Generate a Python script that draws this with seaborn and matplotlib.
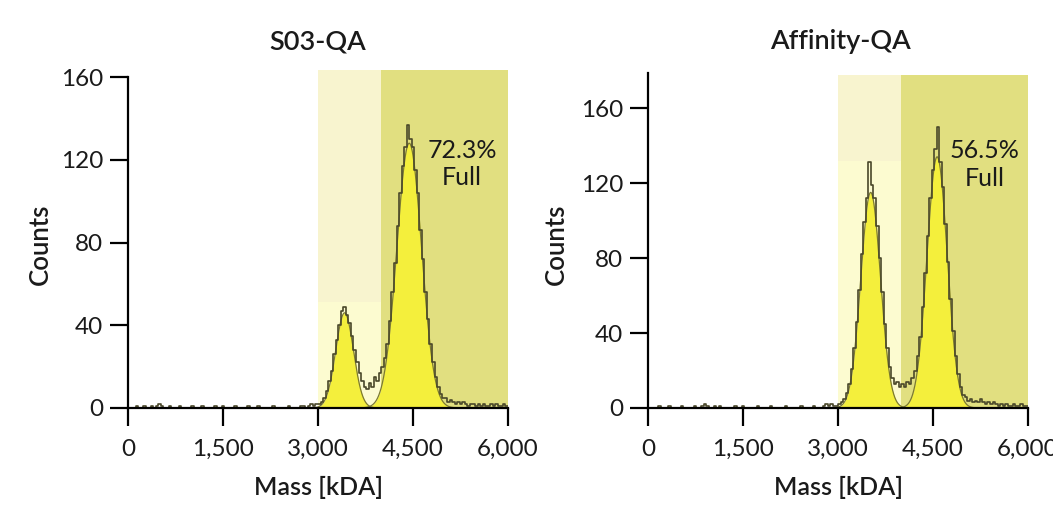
import numpy as np
import pandas as pd
import matplotlib
matplotlib.use("Agg")
import matplotlib.pyplot as plt
import seaborn as sns
from matplotlib.ticker import FuncFormatter
from matplotlib.patches import Rectangle

sns.set_theme(style="ticks")
plt.rcParams["font.family"] = ["Lato", "DejaVu Sans"]

# ---------------- data ----------------
panels = ["S03-QA", "Affinity-QA"]
percent_full = ["72.3%\nFull", "56.5%\nFull"]
bin_width = 40  # kDa
bin_edges = list(range(0, 6001, bin_width))

s03_low = [0, 0, 0, 1, 0, 0, 1, 0, 0, 1, 0, 1, 2, 1, 0, 0, 1, 0, 0, 0,
           1, 0, 0, 0, 0, 1, 0, 0, 0, 1, 0, 0, 0, 0, 1, 0, 0, 1, 0, 0,
           0, 0, 1, 0, 0, 0, 0, 1, 0, 0, 0, 1, 0, 0, 0, 0, 0, 1, 0, 0,
           0, 0, 0, 1, 0, 0, 0, 0, 1, 1, 0, 1, 2, 1, 2]
s03_high = [2, 3, 5, 8, 13, 18, 26, 33, 40, 47, 49, 45, 41, 35, 28, 22, 17, 13, 10, 9,
            12, 10, 15, 13, 17,
            20, 24, 31, 42, 56, 70, 88, 104, 117, 126, 137, 130, 126, 115, 104, 86, 72, 56, 43, 31,
            22, 15, 10, 7, 5,
            5, 3, 4, 3, 2, 3, 2, 3, 2, 1, 2, 2, 1, 2, 1, 2, 1, 1, 2, 1,
            2, 1, 1, 2, 1]
aff_low = [0, 0, 0, 0, 1, 0, 0, 0, 1, 0, 0, 0, 0, 1, 0, 0, 0, 0, 1, 0,
           0, 1, 2, 1, 0, 0, 1, 0, 1, 0, 0, 0, 0, 0, 1, 0, 0, 1, 0, 0,
           0, 0, 0, 1, 0, 0, 0, 0, 1, 0, 0, 0, 0, 0, 1, 0, 0, 0, 0, 0,
           1, 0, 0, 0, 0, 1, 0, 0, 0, 1, 2, 1, 2, 1, 1]
aff_high = [2, 3, 5, 8, 13, 21, 32, 46, 63, 82, 99, 112, 131, 119, 112, 97, 80, 62, 45, 32,
            22, 16, 13, 14, 11,
            13, 11, 14, 13, 16, 20, 28, 38, 54, 72, 92, 112, 127, 138, 150, 131, 118, 98, 78, 58,
            41, 28, 18, 11, 7,
            6, 4, 5, 3, 4, 3, 5, 3, 2, 3, 2, 3, 2, 1, 2, 1, 2, 1, 1, 2,
            1, 1, 2, 1, 1]
counts = [s03_low + s03_high, aff_low + aff_high]

# Gaussian fit parameters per panel: (amplitude, mean kDa, sigma kDa)
fit_partial = [(46, 3420, 140), (115, 3516, 155)]
fit_full = [(128, 4440, 195), (134, 4565, 160)]

# shaded population windows (kDa)
partial_window = (3000, 4000)
full_window = (4000, 6000)
partial_split = [51, 132]   # counts level where partial shading colour changes
shade_top = [163.4, 177.6]

x_ticks = [0, 1500, 3000, 4500, 6000]
y_ticks = [0, 40, 80, 120, 160]
y_limits = [(0, 160), (0, 178.7)]
label_pos = [(5274, 118), (5321, 130)]

# ---------------- style ----------------
c_full = "#e1df80"
c_partial_up = "#f8f4cf"
c_partial_low = "#fcfbd0"
c_fit_fill = "#f4ef3c"
c_fit_line = "#7c7a30"
c_hist = "#4a482a"

fig = plt.figure(figsize=(10.53, 5.05), dpi=100)
axes_rects = [
    [128 / 1053, 1 - 408 / 505, 380 / 1053, (408 - 77) / 505],
    [648 / 1053, 1 - 408 / 505, 380 / 1053, (408 - 73) / 505],
]
title_x = [318 / 1053, 840 / 1053]
ylabel_x = [40 / 1053, 556 / 1053]

centers = [e + bin_width / 2 for e in bin_edges[:-1]]
xs = np.linspace(2700, 5500, 900)

for i in range(2):
    ax = fig.add_axes(axes_rects[i])
    ax.set_xlim(0, 6000)
    ax.set_ylim(*y_limits[i])

    # shading
    p0, p1 = partial_window
    f0, f1 = full_window
    ax.add_patch(Rectangle((f0, 0), f1 - f0, shade_top[i], color=c_full, lw=0, clip_on=False, zorder=0))
    ax.add_patch(Rectangle((p0, partial_split[i]), p1 - p0, shade_top[i] - partial_split[i],
                           color=c_partial_up, lw=0, clip_on=False, zorder=0))
    ax.add_patch(Rectangle((p0, 0), p1 - p0, partial_split[i], color=c_partial_low, lw=0, zorder=0))

    # gaussian fits
    for (A, mu, sd) in (fit_partial[i], fit_full[i]):
        yy = A * np.exp(-0.5 * ((xs - mu) / sd) ** 2)
        ax.fill_between(xs, 0, yy, color=c_fit_fill, lw=0, zorder=1)
        sns.lineplot(x=xs, y=yy, ax=ax, color=c_fit_line, lw=0.9, zorder=2)

    df = pd.DataFrame({"mass": centers, "count": counts[i]})
    sns.histplot(data=df, x="mass", weights="count", bins=bin_edges, element="step",
                 fill=False, color=c_hist, linewidth=1.2, ax=ax, zorder=3)

    ax.text(label_pos[i][0], label_pos[i][1], percent_full[i], ha="center", va="center",
            fontsize=18, color="#1a1a1a", linespacing=1.25, zorder=4)

    sns.despine(ax=ax)
    for s in ("left", "bottom"):
        ax.spines[s].set_linewidth(1.6)
        ax.spines[s].set_color("black")
        ax.spines[s].set_zorder(5)
    ax.set_xticks(x_ticks)
    ax.set_yticks(y_ticks)
    ax.xaxis.set_major_formatter(FuncFormatter(lambda v, p: f"{int(v):,}"))
    ax.tick_params(axis="both", direction="out", length=13, width=1.6, color="black",
                   labelsize=17.5, labelcolor="#1a1a1a")
    ax.tick_params(axis="y", pad=5)
    ax.tick_params(axis="x", pad=9)
    ax.set_xlabel("Mass [kDA]", fontsize=18, fontweight="semibold", labelpad=12, color="#1a1a1a")
    ax.set_ylabel("")
    ax.grid(False)
    ax.set_facecolor("none")

    fig.text(title_x[i], 1 - 42 / 505, panels[i], ha="center", va="center",
             fontsize=19.5, fontweight="semibold", color="#1a1a1a")
    fig.text(ylabel_x[i], 1 - 244 / 505, "Counts", ha="center", va="center", rotation=90,
             fontsize=18.5, fontweight="semibold", color="#1a1a1a")

fig.savefig("out.png", dpi=100)
